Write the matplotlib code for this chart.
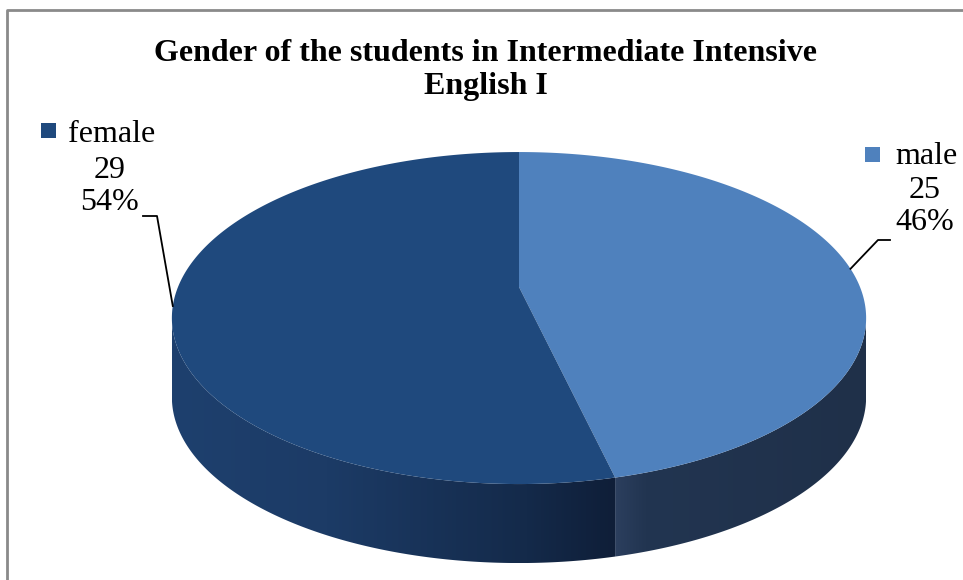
import matplotlib.pyplot as plt
import numpy as np
from matplotlib.patches import Polygon
from matplotlib.colors import to_rgb

labels = ['male', 'female']
counts = [25, 29]
top_colors = ['#4f81bd', '#1f497d']
title = 'Gender of the students in Intermediate Intensive\nEnglish I'

# pie geometry in pixels (perspective-projected disc)
cx, cy = 519, 287
ax_x, ax_y = 341, 160.2
k = 0.187
depth = 79

def rim(t_deg):
    t = np.radians(t_deg)
    u, v = np.sin(t), -np.cos(t)
    w = 1 - k * v
    return cx + ax_x * u / w, cy + ax_y * v / w

def gradient_fill(ax, xs, ys, stops, zorder):
    # horizontal colour ramp clipped to the polygon
    poly = Polygon(np.column_stack([xs, ys]), closed=True, facecolor='none', edgecolor='none')
    ax.add_patch(poly)
    x0, x1 = xs.min(), xs.max()
    pos = np.linspace(0, 1, 256)
    sp = [s[0] for s in stops]
    cols = np.array([to_rgb(s[1]) for s in stops])
    img = np.stack([np.interp(pos, sp, cols[:, i]) for i in range(3)], axis=-1)[None, :, :]
    im = ax.imshow(img, extent=(x0, x1, ys.max(), ys.min()), aspect='auto',
                   interpolation='bilinear', zorder=zorder)
    im.set_clip_path(poly)

fig = plt.figure(figsize=(9.63, 5.8), dpi=100)
ax = fig.add_axes([0, 0, 1, 1])
ax.set_xlim(0, 963)
ax.set_ylim(580, 0)
ax.axis('off')

total = sum(counts)
bounds = np.concatenate([[0], np.cumsum(counts) / total * 360])
sil_lo = np.degrees(np.arccos(-k))
sil_hi = 360 - sil_lo

# side walls, colour stops run left to right
side_stops = [
    [(0, '#2c3f5e'), (0.12, '#223551'), (1, '#1f3049')],
    [(0, '#1e406e'), (0.35, '#1c3b66'), (0.8, '#142a4a'), (1, '#0f1e38')],
]
for i in range(len(counts)):
    a0 = max(bounds[i], sil_lo)
    a1 = min(bounds[i + 1], sil_hi)
    if a1 <= a0:
        continue
    t = np.linspace(a0, a1, 200)
    x, y = rim(t)
    xs = np.concatenate([x, x[::-1]])
    ys = np.concatenate([y, (y + depth)[::-1]])
    gradient_fill(ax, xs, ys, side_stops[i], zorder=1)

# top faces
for i in range(len(counts)):
    t = np.linspace(bounds[i], bounds[i + 1], 300)
    x, y = rim(t)
    pts = np.column_stack([np.concatenate([[cx], x]), np.concatenate([[cy], y])])
    ax.add_patch(Polygon(pts, closed=True, facecolor=top_colors[i], edgecolor='none', zorder=2))

# data labels with leader lines
mid = (bounds[:-1] + bounds[1:]) / 2
font = dict(family='Liberation Serif', fontsize=23, color='black')
label_pos = {'male': (925, 205, 'right'), 'female': (110, 185, 'left')}
for i, name in enumerate(labels):
    lx, ly, side = label_pos[name]
    pct = round(counts[i] / total * 100)
    name_dy = -49 if side == 'right' else -51
    ax.text(lx + (1 if side == 'right' else 2), ly + name_dy, name, ha='center', va='center', zorder=4, **font)
    ax.text(lx, ly - 14, str(counts[i]), ha='center', va='center', zorder=4, **font)
    ax.text(lx, ly + 18, f'{pct}%', ha='center', va='center', zorder=4, **font)
    # legend key square
    kx = (lx - 53) if side == 'right' else (lx - 62)
    ky = (ly - 58) if side == 'right' else (ly - 62)
    ax.add_patch(plt.Rectangle((kx - 7.5, ky), 15, 15, facecolor=top_colors[i], edgecolor='none', zorder=4))
    px, py = rim(mid[i])
    if side == 'right':
        ax.plot([px, 878, 890], [py, 240, 240], color='black', lw=1.3, zorder=3)
    else:
        ax.plot([px, 157, 143], [py, 216, 216], color='black', lw=1.3, zorder=3)

ax.text(486, 70, title, ha='center', va='center', family='Liberation Serif',
        fontsize=23, fontweight='bold', linespacing=1.22)

# chart area frame
ax.plot([6.5, 6.5, 963], [580, 9.5, 9.5], color='#8a8a8a', lw=2, solid_capstyle='butt')

fig.savefig('out.png', dpi=100)
